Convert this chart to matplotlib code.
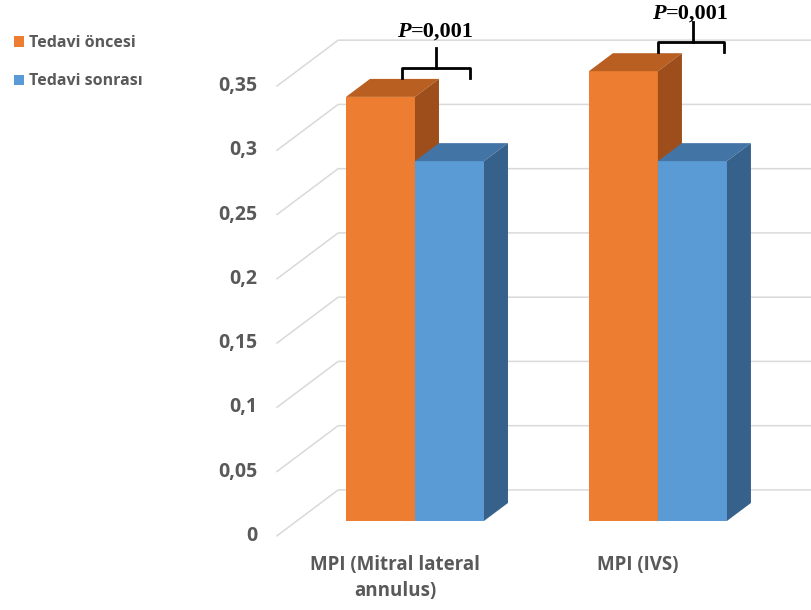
import numpy as np
import matplotlib.pyplot as plt
from matplotlib.patches import Polygon

# data
categories = ["MPI (Mitral lateral\nannulus)", "MPI (IVS)"]
series_names = ["Tedavi öncesi", "Tedavi sonrası"]
before = [0.33, 0.35]
after = [0.28, 0.28]
yticks = [0, 0.05, 0.1, 0.15, 0.2, 0.25, 0.3, 0.35]
p_texts = ["=0,001", "=0,001"]

front_cols = ["#ED7D31", "#5B9BD5"]
top_cols = ["#B95F22", "#4374A6"]
side_cols = ["#9E4E1B", "#36618B"]
grid_col = "#D9D9D9"
text_col = "#595959"

plt.rcParams['font.family'] = ['Open Sans', 'DejaVu Sans']

# oblique "3d" projection: one full depth unit in data coordinates
DX, DY = 0.247, 0.035
front_d = -0.33   # labels / floor front edge
bar_d = 0.40      # bar depth
wall_d = 0.69     # back wall
left_x = -0.568   # front-left corner of the floor
width = 0.284

fig = plt.figure(figsize=(8.11, 6.10), dpi=100)
ax = fig.add_axes([0, 0, 1, 1])
ax.set_xlim(-1.708, 1.630)
ax.set_ylim(-0.0693, 0.4054)
ax.axis('off')

# gridlines: side wall diagonal + back wall horizontal
for v in yticks:
    x0, y0 = left_x, v + front_d * DY
    x1, y1 = left_x + (wall_d - front_d) * DX, v + wall_d * DY
    ax.plot([x0, x1, 1.7], [y0, y1, y1], color=grid_col, lw=1.1, zorder=1)
    ax.text(left_x - 0.082, y0, f"{v:g}".replace('.', ','), ha='right', va='center',
            fontsize=14, fontweight='bold', color=text_col)

x = np.arange(len(categories))
bdx, bdy = bar_d * DX, bar_d * DY
for i, (vals, name) in enumerate(zip([before, after], series_names)):
    lefts = x - width + i * width
    ax.bar(lefts, vals, width, align='edge', color=front_cols[i], label=name, zorder=3 + i)
    for xl, v in zip(lefts, vals):
        xr = xl + width
        top = [(xl, v), (xr, v), (xr + bdx, v + bdy), (xl + bdx, v + bdy)]
        side = [(xr, 0), (xr, v), (xr + bdx, v + bdy), (xr + bdx, bdy)]
        ax.add_patch(Polygon(top, closed=True, color=top_cols[i], lw=0, zorder=3 + i))
        ax.add_patch(Polygon(side, closed=True, color=side_cols[i], lw=0, zorder=3 + i))

for xi, lab in zip(x, categories):
    ax.text(xi + front_d * DX, front_d * DY - 0.015, lab, ha='center', va='top',
            fontsize=13.5, fontweight='bold', color=text_col, linespacing=1.4)

# significance brackets
brackets = [(-0.054, 0.226, 0.0864, 0.3525, 0.368, -0.016, 0.3805),
            (1.0, 1.272, 1.144, 0.3728, 0.388, 1.033, 0.3946)]
for (xa, xb, xc, yh, ytop, xp, yp), pt in zip(brackets, p_texts):
    tip = 0.008
    ax.plot([xa, xa, xb, xb], [yh - tip, yh, yh, yh - tip], color='black', lw=2,
            solid_joinstyle='round', zorder=6)
    ax.plot([xc, xc], [yh, ytop], color='black', lw=2, zorder=6)
    ax.text(xp, yp, "P", ha='right', va='center', fontsize=16, fontweight='bold',
            fontstyle='italic', family='Liberation Serif', zorder=7)
    ax.text(xp, yp, pt, ha='left', va='center', fontsize=16, fontweight='bold',
            family='Liberation Serif', zorder=7)

leg = ax.legend(loc='upper left', bbox_to_anchor=(0.009, 0.953), frameon=False,
                handlelength=0.62, handleheight=0.62, handletextpad=0.35,
                labelspacing=1.4, borderaxespad=0,
                prop={'size': 11.5, 'weight': 'bold'})
for t in leg.get_texts():
    t.set_color(text_col)

fig.savefig("out.png", dpi=100)
